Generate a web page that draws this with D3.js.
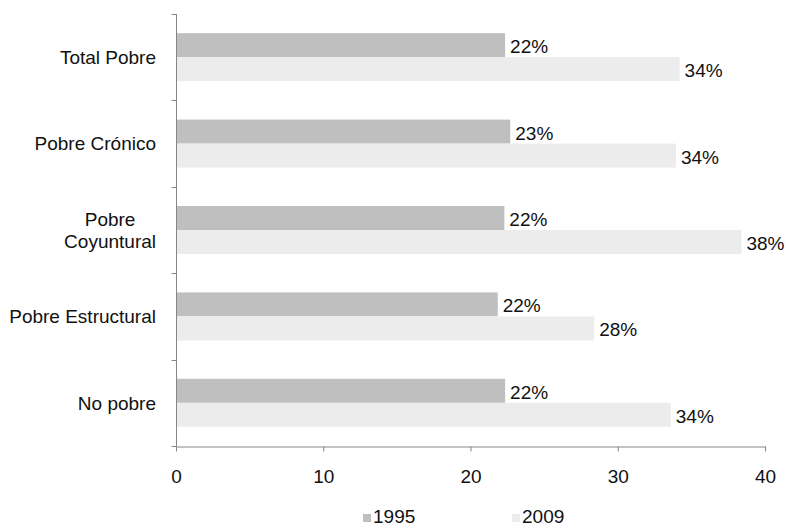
<!DOCTYPE html>
<html>
<head>
<meta charset="utf-8">
<script src="https://cdn.jsdelivr.net/npm/d3@7"></script>
<style>
  html, body { margin: 0; padding: 0; background: #fff; }
  svg { display: block; font-family: "Liberation Sans", Arial, sans-serif; }
</style>
</head>
<body>
<svg id="chart" width="786" height="528"></svg>
<script>
// Poverty categories (top to bottom) and shares per year, in percent
const categories = ["Total Pobre", "Pobre Crónico", "Pobre\nCoyuntural", "Pobre Estructural", "No pobre"];
const years = ["1995", "2009"];
const values1995 = [22.35, 22.7, 22.3, 21.85, 22.35];
const values2009 = [34.2, 33.95, 38.4, 28.4, 33.6];
const xTicks = [0, 10, 20, 30, 40];

const colors = { "1995": "#bfbfbf", "2009": "#ececec" };
const axisColor = "#868686";
const fontSize = 19;

const svg = d3.select("#chart");
const margin = { left: 176, right: 21, top: 14, bottom: 82 };
const width = 786, height = 528;

const x = d3.scaleLinear().domain([0, 40]).range([margin.left, width - margin.right]);
const y = d3.scaleBand().domain(categories).range([margin.top, height - margin.bottom]).padding(0);
const yInner = d3.scaleBand().domain(years).range([0, y.bandwidth()]).paddingInner(0).paddingOuter(0.8);

const rows = categories.map((c, i) => ({ cat: c, "1995": values1995[i], "2009": values2009[i] }));
const fmt = d3.format(".0f");

// Bars
const groups = svg.append("g").selectAll("g")
  .data(rows).join("g")
  .attr("transform", d => `translate(0,${y(d.cat)})`);

groups.selectAll("rect")
  .data(d => years.map(k => ({ key: k, value: d[k] })))
  .join("rect")
  .attr("x", x(0))
  .attr("y", d => yInner(d.key))
  .attr("width", d => x(d.value) - x(0))
  .attr("height", yInner.bandwidth())
  .attr("fill", d => colors[d.key]);

// Value labels
groups.selectAll("text")
  .data(d => years.map(k => ({ key: k, value: d[k] })))
  .join("text")
  .attr("x", d => x(d.value) + 5)
  .attr("y", d => yInner(d.key) + yInner.bandwidth() / 2)
  .attr("dy", "0.42em")
  .attr("font-size", fontSize)
  .attr("fill", "#111")
  .text(d => fmt(d.value) + "%");

// X axis
const xAxis = svg.append("g")
  .attr("transform", `translate(0,${height - margin.bottom + 0.5})`)
  .call(d3.axisBottom(x).tickValues(xTicks).tickSize(5).tickPadding(18).tickSizeOuter(0));
xAxis.select(".domain").attr("stroke", axisColor);
xAxis.selectAll(".tick line").attr("stroke", axisColor);
xAxis.selectAll(".tick text").attr("font-size", fontSize).attr("fill", "#111")
  .attr("font-family", "Liberation Sans, Arial, sans-serif");

// Y axis: line with ticks at category boundaries
const yAxis = svg.append("g");
const axisX = x(0) + 0.5;
yAxis.append("line")
  .attr("x1", axisX).attr("x2", axisX)
  .attr("y1", y.range()[0]).attr("y2", y.range()[1])
  .attr("stroke", axisColor);
const boundaries = categories.map(c => y(c)).concat([y.range()[1]]);
yAxis.selectAll("line.tick")
  .data(boundaries).join("line")
  .attr("class", "tick")
  .attr("x1", axisX - 5).attr("x2", axisX)
  .attr("y1", d => Math.round(d) + 0.5).attr("y2", d => Math.round(d) + 0.5)
  .attr("stroke", axisColor);

// Category labels (multi-line labels are centred within a right-aligned block)
const labelRight = x(0) - 20;
const lineHeight = 22;
categories.forEach(c => {
  const lines = c.split("\n");
  const t = svg.append("text")
    .attr("font-size", fontSize)
    .attr("fill", "#111");
  const cy = y(c) + y.bandwidth() / 2;
  if (lines.length === 1) {
    t.attr("x", labelRight).attr("y", cy).attr("dy", "0.36em")
      .attr("text-anchor", "end").text(c);
  } else {
    const spans = t.selectAll("tspan").data(lines).join("tspan").text(d => d);
    let maxW = 0;
    spans.each(function () { maxW = Math.max(maxW, this.getComputedTextLength()); });
    const mid = labelRight - maxW / 2;
    const startY = cy - (lines.length - 1) * lineHeight / 2;
    spans.attr("x", mid).attr("text-anchor", "middle")
      .attr("y", (d, i) => startY + i * lineHeight)
      .attr("dy", "0.36em");
  }
});

// Legend
const legend = svg.append("g").attr("transform", "translate(363,511)");
const legendItems = legend.selectAll("g")
  .data(years).join("g")
  .attr("transform", (d, i) => `translate(${i * 149},0)`);
legendItems.append("rect")
  .attr("y", 3)
  .attr("width", 8).attr("height", 8)
  .attr("fill", d => colors[d]);
legendItems.append("text")
  .attr("x", 10).attr("y", 12)
  .attr("font-size", fontSize)
  .attr("fill", "#111")
  .text(d => d);
</script>
</body>
</html>
